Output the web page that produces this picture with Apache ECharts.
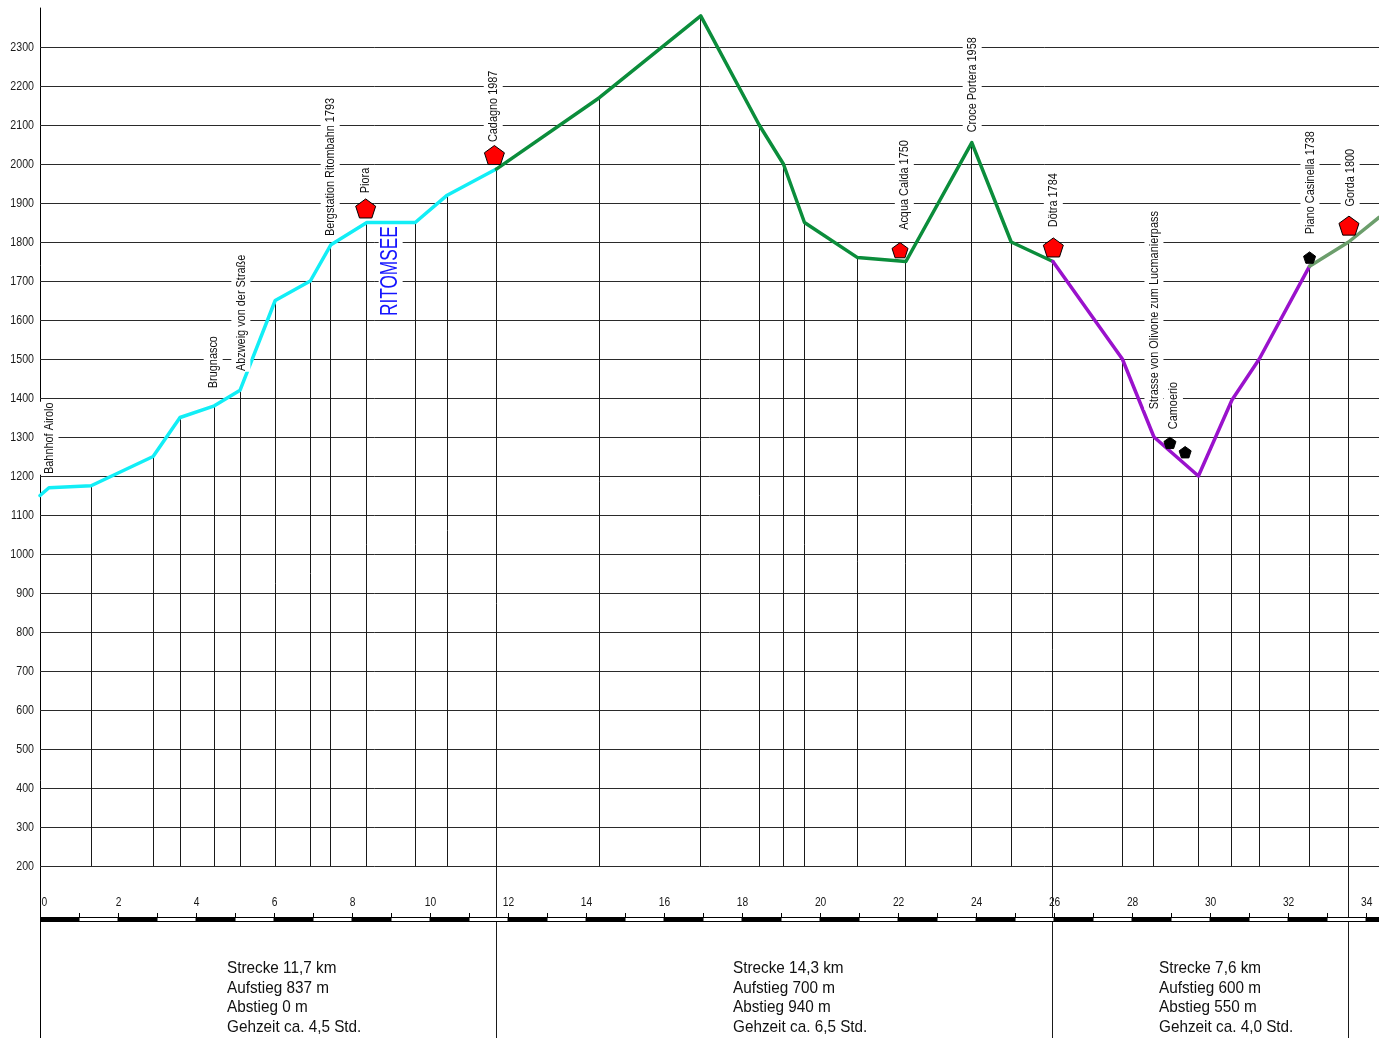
<!DOCTYPE html>
<html><head><meta charset="utf-8">
<script src="https://cdn.jsdelivr.net/npm/echarts@6/dist/echarts.min.js"></script>
<style>html,body{margin:0;padding:0;background:#fff}#c{width:1379px;height:1038px}</style>
</head><body><div id="c"></div>
<script>
// ---- data ----
const elevTicks = [200,300,400,500,600,700,800,900,1000,1100,1200,1300,1400,1500,1600,1700,1800,1900,2000,2100,2200,2300];
const kmTicks = [0,2,4,6,8,10,12,14,16,18,20,22,24,26,28,30,32,34];
const kmSegments = [0,1,2,3,4,5,6,7,8,9,10,11,12,13,14,15,16,17,18,19,20,21,22,23,24,25,26,27,28,29,30,31,32,33,34];

const cyanRoute = [[0,1150],[0.23,1170],[1.31,1175],[2.9,1250],[3.59,1350],[4.47,1380],[5.13,1420],[6.03,1650],[6.93,1700],[7.46,1793],[8.38,1850],[9.62,1850],[10.44,1920],[11.7,1987]];
const greenRoute = [[11.7,1987],[14.34,2170],[16.94,2380],[18.44,2100],[19.06,2000],[19.6,1850],[20.96,1760],[22.2,1750],[23.89,2055],[24.9,1800],[25.97,1750]];
const purpleRoute = [[25.97,1750],[27.75,1500],[28.56,1300],[29.7,1200],[30.56,1395],[31.26,1500],[32.55,1738]];
const grayRoute = [[32.55,1738],[33.55,1800],[34.33,1863]];

const noDropKm = [0, 0.23, 34.33];
const sectionEnds = [11.7, 25.97, 33.55];

const redHuts = [[8.35,1886],[11.65,2023],[22.05,1779],[25.98,1786],[33.56,1842]];
const redHutSizes = [20,20,16,20,20];
const blackPoints = [[28.97,1285],[29.36,1261],[32.55,1760]];

const placeNames = ['Bahnhof Airolo','Brugnasco','Abzweig von der Straße','Bergstation Ritombahn 1793','Piora','Cadagno 1987','Acqua Calda 1750','Croce Portera 1958','Dötra 1784','Strasse von Olivone zum Lucmanierpass','Camoerio','Piano Casinella 1738','Gorda 1800'];
const placeAnchors = [[0.23,1203],[4.44,1423],[5.15,1467],[7.44,1813],[8.33,1923],[11.62,2054],[22.16,1829],[23.9,2079],[25.98,1836],[28.56,1369],[29.06,1318],[32.56,1818],[33.59,1889]];
const lakeName = 'RITOMSEE';
const lakeAnchor = [8.99, 1610];

const sectionTexts = [
  ['Strecke 11,7 km','Aufstieg 837 m','Abstieg 0 m','Gehzeit ca. 4,5 Std.'],
  ['Strecke 14,3 km','Aufstieg 700 m','Abstieg 940 m','Gehzeit ca. 6,5 Std.'],
  ['Strecke 7,6 km','Aufstieg 600 m','Abstieg 550 m','Gehzeit ca. 4,0 Std.']
];

// ---- build ----
const FONT = '"Liberation Sans", Arial, sans-serif';
const NARROW = 0.82;
const Y_MIN = -241, Y_MAX = 2400, X_MAX = 34.33;
const PENTA = 'path://M0,-1 L0.951,-0.309 L0.588,0.809 L-0.588,0.809 L-0.951,-0.309 Z';

const drops = [];
const seen = new Set();
[cyanRoute, greenRoute, purpleRoute, grayRoute].forEach(r => r.forEach(p => {
  if (seen.has(p[0])) return; seen.add(p[0]);
  if (noDropKm.includes(p[0])) return;
  drops.push([p[0], p[1], sectionEnds.includes(p[0]) ? 1 : 0]);
}));

const crisp = v => Math.round(v - 0.5) + 0.5;

const chart = echarts.init(document.getElementById('c'));
const routeSeries = (data, color) => ({
  type: 'line', data, showSymbol: false, clip: true, z: 4, silent: true,
  lineStyle: { color, width: 3.5, cap: 'round', join: 'round' }
});
const vLabel = (text, x, y, size, color, scaleX, pad) => ({
  type: 'text', x, y, rotation: Math.PI / 2, scaleX,
  style: { text, font: size + 'px ' + FONT, fill: color, align: 'left', verticalAlign: 'middle',
           backgroundColor: '#fff', padding: pad }
});

chart.setOption({
  animation: false,
  backgroundColor: '#fff',
  grid: { left: 40, right: 0, top: 8, bottom: 0 },
  xAxis: {
    type: 'value', min: 0, max: X_MAX,
    axisLine: { show: false, onZero: false },
    axisTick: { show: false }, splitLine: { show: false }, axisLabel: { show: false }
  },
  yAxis: {
    type: 'value', min: Y_MIN, max: Y_MAX,
    axisLine: { show: true, onZero: false, lineStyle: { color: '#000', width: 1 } },
    axisTick: { show: false }, splitLine: { show: false }, axisLabel: { show: false }
  },
  series: [
    { // horizontal grid lines + elevation labels
      type: 'custom', silent: true, z: 1, clip: false,
      data: elevTicks.map(v => [v]),
      renderItem: (p, api) => {
        const v = api.value(0);
        const a = api.coord([0, v]), b = api.coord([X_MAX, v]);
        const y = crisp(a[1]);
        return { type: 'group', children: [
          { type: 'line', shape: { x1: a[0], y1: y, x2: b[0], y2: y }, style: { stroke: '#2a2a2a', lineWidth: 1 } },
          { type: 'text', x: a[0] - 6, y: a[1], scaleX: NARROW,
            style: { text: String(v), font: '13px ' + FONT, fill: '#1a1a1a', align: 'right', verticalAlign: 'middle' } }
        ] };
      }
    },
    { // vertical drops from profile points
      type: 'custom', silent: true, z: 2, clip: true,
      data: drops,
      renderItem: (p, api) => {
        const a = api.coord([api.value(0), api.value(1)]);
        const b = api.coord([api.value(0), api.value(2) ? Y_MIN : 200]);
        const x = crisp(a[0]);
        return { type: 'line', shape: { x1: x, y1: a[1], x2: x, y2: b[1] }, style: { stroke: '#1a1a1a', lineWidth: 1 } };
      }
    },
    { // km scale bar + km labels
      type: 'custom', silent: true, z: 2, clip: true,
      data: kmSegments.map(k => [k]),
      renderItem: (p, api) => {
        const k = api.value(0);
        const a = api.coord([k, 200]), b = api.coord([k + 1, 200]);
        const top = Math.round(a[1]) + 51;
        const x1 = Math.round(a[0]), x2 = Math.round(b[0]);
        const children = [];
        if (k % 2 === 0) {
          children.push({ type: 'rect', shape: { x: x1, y: top, width: x2 - x1, height: 5 }, style: { fill: '#000' } });
        } else {
          children.push({ type: 'rect', shape: { x: x1, y: top + 0.5, width: x2 - x1, height: 4 }, style: { fill: '#fff', stroke: '#000', lineWidth: 1 } });
        }
        if (k > 0) {
          children.push({ type: 'line', shape: { x1: x1 + 0.5, y1: top - 4, x2: x1 + 0.5, y2: top }, style: { stroke: '#000', lineWidth: 1 } });
        }
        if (kmTicks.includes(k)) {
          children.push({ type: 'text', x: k === 0 ? a[0] + 1.5 : a[0] + 0.5, y: top - 14, scaleX: NARROW,
            style: { text: String(k), font: '12.5px ' + FONT, fill: '#1a1a1a', align: k === 0 ? 'left' : 'center', verticalAlign: 'middle' } });
        }
        return { type: 'group', children };
      }
    },
    routeSeries(cyanRoute, '#12eef6'),
    routeSeries(greenRoute, '#0b8d3b'),
    routeSeries(purpleRoute, '#9a12cc'),
    routeSeries(grayRoute, '#6c9e6c'),
    {
      type: 'scatter', data: redHuts.map((v, i) => ({ value: v, symbolSize: redHutSizes[i] })),
      symbol: PENTA, symbolKeepAspect: true, z: 6, silent: true,
      itemStyle: { color: '#ff0000', borderColor: '#000', borderWidth: 1, opacity: 1 }
    },
    {
      type: 'scatter', data: blackPoints, symbol: PENTA, symbolSize: 12, symbolKeepAspect: true, z: 6, silent: true,
      itemStyle: { color: '#000', borderColor: '#000', borderWidth: 1, opacity: 1 }
    },
    { // place names
      type: 'custom', silent: true, z: 7, clip: false,
      data: placeAnchors.map((a, i) => [a[0], a[1], i]),
      renderItem: (p, api) => {
        const c = api.coord([api.value(0), api.value(1)]);
        return vLabel(placeNames[api.value(2)], c[0], c[1], 13.3, '#111', NARROW, [3, 1, 3, 1]);
      }
    },
    { // lake name
      type: 'custom', silent: true, z: 7, clip: false,
      data: [lakeAnchor],
      renderItem: (p, api) => {
        const c = api.coord([api.value(0), api.value(1)]);
        return vLabel(lakeName, c[0], c[1], 24, '#1515ff', 0.72, [0, 0, 0, 0]);
      }
    }
  ],
  graphic: sectionTexts.map((lines, i) => ({
    type: 'text', x: [227, 733, 1159][i], y: 959, scaleX: 0.9, silent: true,
    style: { text: lines.join('\n'), font: '17px ' + FONT, lineHeight: 19.4, fill: '#111', align: 'left', verticalAlign: 'top' }
  }))
});
</script></body></html>
